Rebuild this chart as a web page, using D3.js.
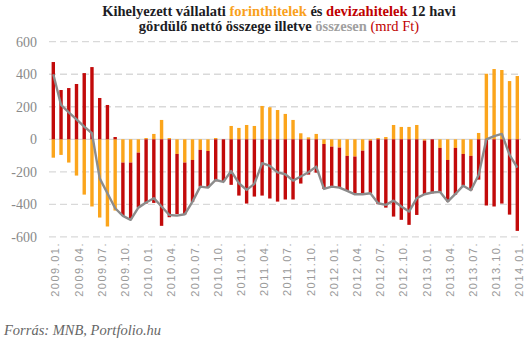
<!DOCTYPE html>
<html>
<head>
  <meta charset="utf-8">
  <title>Kihelyezett vállalati hitelek</title>
  <script src="https://d3js.org/d3.v7.min.js"></script>
  <style type="text/css">
    body {
      margin: 0;
      background-color: #ffffff;
    }
    .title {
      font-family: 'Liberation Serif', serif;
      font-size: 14.5px;
      font-weight: bold;
      fill: #1c1c24;
    }
    .ylab {
      font-family: 'Liberation Serif', serif;
      font-size: 14px;
      fill: #8a8a8a;
    }
    .xlab {
      font-family: 'Liberation Sans', sans-serif;
      font-size: 11px;
      letter-spacing: 1.5px;
      fill: #9a9a9a;
    }
    .source {
      font-family: 'Liberation Serif', serif;
      font-style: italic;
      font-size: 14.5px;
      fill: #666666;
    }
  </style>
</head>
<body>
<div id="chart"></div>

<script>
  // months 2009.01 - 2014.01
  var months = [
    "2009.01.", "2009.02.", "2009.03.", "2009.04.", "2009.05.", "2009.06.", "2009.07.", "2009.08.", "2009.09.", "2009.10.", "2009.11.", "2009.12.",
    "2010.01.", "2010.02.", "2010.03.", "2010.04.", "2010.05.", "2010.06.", "2010.07.", "2010.08.", "2010.09.", "2010.10.", "2010.11.", "2010.12.",
    "2011.01.", "2011.02.", "2011.03.", "2011.04.", "2011.05.", "2011.06.", "2011.07.", "2011.08.", "2011.09.", "2011.10.", "2011.11.", "2011.12.",
    "2012.01.", "2012.02.", "2012.03.", "2012.04.", "2012.05.", "2012.06.", "2012.07.", "2012.08.", "2012.09.", "2012.10.", "2012.11.", "2012.12.",
    "2013.01.", "2013.02.", "2013.03.", "2013.04.", "2013.05.", "2013.06.", "2013.07.", "2013.08.", "2013.09.", "2013.10.", "2013.11.", "2013.12.",
    "2014.01."
  ];
  // forinthitelek (orange)
  var forint = [
    -113, -96, -143, -223, -340, -413, -481, -536, -438, -143, -143, -82,
    8, 33, 119, 8, -90, -143, -127, -65, -72, 8, 0, 82,
    70, 88, 82, 205, 197, 180, 156, 119, 37, 12, 33, -29,
    -45, -51, -102, -106, -70, -8, 8, 14, 88, 76, 76, 88,
    -8, 0, -53, -127, -53, -90, -102, 39, 403, 432, 426, 358,
    389
  ];
  // devizahitelek (red)
  var deviza = [
    475, 303, 315, 340, 407, 444, 254, 211, 14, -328, -348, -338,
    -395, -391, -532, -479, -370, -319, -258, -226, -225, -258, -260, -280,
    -346, -395, -352, -346, -364, -383, -370, -370, -272, -217, -205, -276,
    -246, -246, -215, -232, -268, -324, -399, -420, -475, -495, -526, -465,
    -330, -332, -270, -256, -287, -195, -211, -248, -407, -413, -395, -463,
    -563
  ];
  // összesen (grey line)
  var osszes = [
    400, 211, 166, 123, 78, 37, -240, -332, -424, -471, -495, -420,
    -389, -362, -413, -465, -469, -461, -383, -291, -297, -250, -262, -195,
    -270, -311, -274, -147, -164, -203, -215, -254, -229, -203, -168, -305,
    -291, -297, -317, -338, -338, -332, -393, -403, -377, -413, -444, -362,
    -338, -327, -323, -383, -336, -285, -313, -219, 0, 20, 33, -96,
    -174
  ];
  var yTicks = [-600, -400, -200, 0, 200, 400, 600];

  var width = 531, height = 342;
  var svg = d3.select("#chart").append("svg").attr("width", width).attr("height", height);

  var x = d3.scalePoint().domain(months).range([53.3, 517.3]);
  var y = d3.scaleLinear().domain([-600, 600]).range([236.9, 41.7]);
  var barW = 3.4;

  // gridlines
  svg.selectAll("line.grid").data(yTicks).enter().append("line")
    .attr("class", "grid")
    .attr("x1", 49).attr("x2", 521)
    .attr("y1", function (d) { return y(d); }).attr("y2", function (d) { return y(d); })
    .attr("stroke", "#d9d9d9").attr("stroke-width", 1.3)
    .attr("stroke-dasharray", function (d) { return d === 0 ? null : "7,4"; });

  // y labels
  svg.selectAll("text.ylab").data(yTicks).enter().append("text")
    .attr("class", "ylab")
    .attr("x", 37).attr("y", function (d) { return y(d); })
    .attr("dy", "0.35em").attr("text-anchor", "end")
    .text(function (d) { return d; });

  // stacked bars: forint first, deviza stacked on the same side
  var rows = months.map(function (m, i) { return { m: m, f: forint[i], d: deviza[i] }; });

  svg.selectAll("rect.forint").data(rows).enter().append("rect")
    .attr("class", "forint")
    .attr("x", function (d) { return x(d.m) - barW / 2; })
    .attr("width", barW)
    .attr("y", function (d) { return y(Math.max(0, d.f)); })
    .attr("height", function (d) { return Math.abs(y(d.f) - y(0)); })
    .attr("fill", "#fba51c");

  svg.selectAll("rect.deviza").data(rows).enter().append("rect")
    .attr("class", "deviza")
    .attr("x", function (d) { return x(d.m) - barW / 2; })
    .attr("width", barW)
    .attr("y", function (d) {
      var base = (d.f * d.d > 0) ? d.f : 0;
      return y(Math.max(base, base + d.d));
    })
    .attr("height", function (d) { return Math.abs(y(d.d) - y(0)); })
    .attr("fill", "#c20a0a");

  // total line
  var line = d3.line()
    .x(function (d, i) { return x(months[i]); })
    .y(function (d) { return y(d); });
  svg.append("path").datum(osszes)
    .attr("d", line)
    .attr("fill", "none")
    .attr("stroke", "#8c8c8c")
    .attr("stroke-width", 2.4)
    .attr("stroke-linejoin", "round");

  // x labels every 3 months
  var tickMonths = months.filter(function (m, i) { return i % 3 === 0; });
  svg.selectAll("text.xlab").data(tickMonths).enter().append("text")
    .attr("class", "xlab")
    .attr("transform", function (d) { return "translate(" + (x(d) + 6) + ",242) rotate(-90)"; })
    .attr("text-anchor", "end")
    .text(function (d) { return d; });

  // title
  var t1 = svg.append("text").attr("class", "title").attr("x", 279).attr("y", 15.7).attr("text-anchor", "middle");
  t1.append("tspan").text("Kihelyezett vállalati ");
  t1.append("tspan").attr("fill", "#f9a11b").text("forinthitelek");
  t1.append("tspan").text(" és ");
  t1.append("tspan").attr("fill", "#c00000").text("devizahitelek");
  t1.append("tspan").text(" 12 havi");

  var t2 = svg.append("text").attr("class", "title").attr("x", 279).attr("y", 30.7).attr("text-anchor", "middle");
  t2.append("tspan").text("gördülő nettó összege illetve ");
  t2.append("tspan").attr("fill", "#a0a0a0").text("összesen");
  t2.append("tspan").attr("fill", "#c00000").attr("font-weight", "normal").text(" (mrd Ft)");

  // source
  svg.append("text").attr("class", "source").attr("x", 4).attr("y", 335).text("Forrás: MNB, Portfolio.hu");
</script>

</body>
</html>
